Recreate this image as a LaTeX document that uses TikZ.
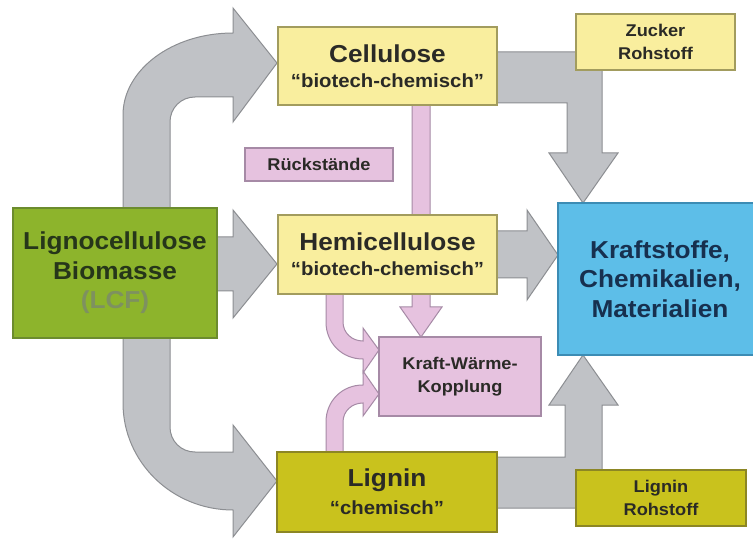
\documentclass[tikz,border=0pt]{standalone}
\usepackage{fontspec}
\setmainfont[FakeStretch=1.07]{Liberation Sans}
\begin{document}
\begin{tikzpicture}[x=1pt,y=-1pt,
  box/.style={draw, line width=1.2pt, inner sep=0pt, align=center},
  ybox/.style={box, fill=yellowf, draw=yellowd, text=txtd},
  grayarrow/.style={fill=grayf, draw=grayd, line width=1pt, line join=miter},
  pinkarrow/.style={fill=pinkf, draw=pinkd, line width=1pt},
  big/.style={font=\bfseries\fontsize{24.5}{29.5}\selectfont},
  twoline/.style={font=\bfseries\fontsize{24.5}{25}\selectfont},
  small/.style={font=\bfseries\fontsize{17}{22.5}\selectfont}
]
\definecolor{grayf}{HTML}{C0C2C6}
\definecolor{grayd}{HTML}{8C8E92}
\definecolor{pinkf}{HTML}{E6C2DF}
\definecolor{pinkd}{HTML}{A68AA6}
\definecolor{yellowf}{HTML}{F9EE9E}
\definecolor{yellowd}{HTML}{A29C5E}
\definecolor{greenf}{HTML}{8DB42C}
\definecolor{greend}{HTML}{6C8C2E}
\definecolor{ligf}{HTML}{C9C21D}
\definecolor{ligd}{HTML}{8C8624}
\definecolor{bluef}{HTML}{5DBEE8}
\definecolor{blued}{HTML}{3C8CB4}
\definecolor{txtd}{HTML}{2A2A26}
\definecolor{txtg}{HTML}{26361A}
\definecolor{txtlcf}{HTML}{7E9160}
\definecolor{txtb}{HTML}{17304F}
\useasboundingbox[fill=white] (0,0) rectangle (753,540);

% gray arrows (behind the boxes)
\draw[grayarrow] (123,230) -- (123,115) .. controls (123,70) and (172,33) .. (233,33)
  -- (233,8) -- (277,63) -- (233,122) -- (233,97) -- (195,97)
  .. controls (181,97) and (170,108) .. (170,122) -- (170,230) -- cycle;
\draw[grayarrow] (200,237) -- (233,237) -- (233,210) -- (277,264) -- (233,318) -- (233,291) -- (200,291) -- cycle;
\draw[grayarrow] (123,320) -- (123,403) .. controls (123,462) and (172,510) .. (233,510)
  -- (233,537) -- (277,481) -- (233,425) -- (233,452) -- (195,452)
  .. controls (181,452) and (170,441) .. (170,427) -- (170,320) -- cycle;
\draw[grayarrow] (480,52) -- (602,52) -- (602,153) -- (618,153) -- (583,203) -- (549,153) -- (567,153) -- (567,103) -- (480,103) -- cycle;
\draw[grayarrow] (480,231) -- (527,231) -- (527,210) -- (558,255) -- (527,300) -- (527,278) -- (480,278) -- cycle;
\draw[grayarrow] (480,508) -- (602,508) -- (602,405) -- (618,405) -- (583,355) -- (549,405) -- (565,405) -- (565,457) -- (480,457) -- cycle;

% pink arrows
\draw[pinkarrow] (412,95) -- (412,307) -- (400,307) -- (421,337) -- (442,307) -- (430,307) -- (430,95) -- cycle;
\draw[pinkarrow] (326,285) -- (326,322) .. controls (326,343) and (342,359) .. (363,359)
  -- (363,373) -- (379,350) -- (363,328) -- (363,341)
  .. controls (352,341) and (343,333) .. (343,322) -- (343,285) -- cycle;
\draw[pinkarrow] (326,460) -- (326,422) .. controls (326,401) and (342,385) .. (363,385)
  -- (363,371) -- (379,394) -- (363,416) -- (363,403)
  .. controls (352,403) and (343,411) .. (343,422) -- (343,460) -- cycle;

% boxes
\node[ybox, twoline, minimum width=219pt, minimum height=78pt] (cel) at (387.5,66)
  {Cellulose\\{\fontsize{19}{22}\selectfont “biotech-chemisch”}};
\node[ybox, twoline, minimum width=219pt, minimum height=79pt] (hemi) at (387.5,254.5)
  {Hemicellulose\\{\fontsize{19}{22}\selectfont “biotech-chemisch”}};
\node[box, twoline, fill=ligf, draw=ligd, text=txtd, minimum width=220pt, minimum height=80pt] (lig) at (387,492)
  {Lignin\\[3pt]{\fontsize{19}{22}\selectfont “chemisch”}};
\node[box, big, fill=greenf, draw=greend, text=txtg, minimum width=204pt, minimum height=130pt] (lcf) at (115,273)
  {Lignocellulose\\Biomasse\\\textcolor{txtlcf}{(LCF)}};
\node[box, big, fill=bluef, draw=blued, text=txtb, minimum width=204pt, minimum height=152pt] (kraft) at (660,279)
  {Kraftstoffe,\\Chemikalien,\\Materialien};
\node[ybox, small, minimum width=159pt, minimum height=56pt] (zuck) at (655.5,42) {Zucker\\Rohstoff};
\node[box, small, fill=ligf, draw=ligd, text=txtd, minimum width=170pt, minimum height=56pt] (ligr) at (661,498) {Lignin\\Rohstoff};
\node[box, small, fill=pinkf, draw=pinkd, text=txtd, minimum width=148pt, minimum height=33pt] (rueck) at (319,164.5) {Rückstände};
\node[box, small, fill=pinkf, draw=pinkd, text=txtd, minimum width=162pt, minimum height=79pt] (kwk) at (460,376.5) {Kraft-Wärme-\\Kopplung};
\end{tikzpicture}
\end{document}
